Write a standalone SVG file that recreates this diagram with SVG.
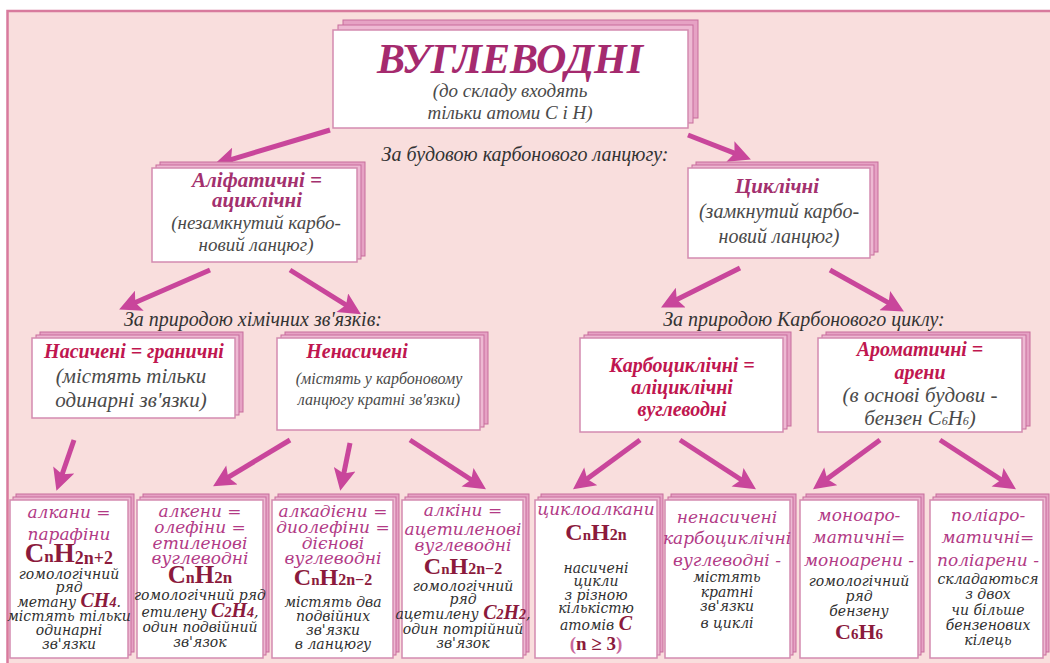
<svg xmlns="http://www.w3.org/2000/svg" width="1050" height="663" viewBox="0 0 1050 663">
<defs>
<marker id="ah" viewBox="0 0 10 10" refX="6" refY="5" markerWidth="5" markerHeight="4.4" orient="auto" markerUnits="strokeWidth"><path d="M0,0 L10,5 L0,10 L2,5 z" fill="#c9469b"/></marker>
</defs>
<style>
.bg{fill:#f9dedd}
.frame{stroke:#d87a9d;stroke-width:2.5;fill:none}
.box{fill:#ffffff;stroke:#d38bb0;stroke-width:1.5}
.s1{fill:#eeb9d3;stroke:#c76c9c;stroke-width:1}
.s2{fill:#e6a2c4;stroke:#c76c9c;stroke-width:1}
.arr{stroke:#c9469b;stroke-width:5;fill:none;marker-end:url(#ah)}
text{text-anchor:middle}
.title{font-family:"Liberation Serif",serif;font-weight:bold;font-style:italic;font-size:42px;fill:#a52a6e}
.sub{font-family:"Liberation Serif",serif;font-style:italic;fill:#4a4a4a}
.lbl{font-family:"Liberation Serif",serif;font-style:italic;font-size:20px;fill:#333}
.h2{font-family:"Liberation Serif",serif;font-weight:bold;font-style:italic;font-size:21px;fill:#a3306e}
.h3{font-family:"Liberation Serif",serif;font-weight:bold;font-style:italic;font-size:20px;fill:#c0164f}
.mg{font-family:"DejaVu Serif",serif;font-style:italic;font-size:17px;fill:#b23a86}
.gr{font-family:"DejaVu Serif",serif;font-style:italic;font-size:14px;fill:#2f2f2f}
.f{font-family:"Liberation Serif",serif;font-weight:bold;fill:#8b1a3c}
</style>
<rect width="1050" height="663" fill="#ffffff"/>
<rect class="bg" x="7" y="10" width="1043" height="653"/>
<path class="frame" d="M7.5,663 V11 H1050"/>

<g id="connectors">
<line class="arr" x1="330" y1="130" x2="222.6" y2="162.1"/>
<line class="arr" x1="688" y1="135" x2="742.7" y2="156.4"/>
<line class="arr" x1="210" y1="270" x2="127.2" y2="306"/>
<line class="arr" x1="290" y1="270" x2="353.5" y2="309.7"/>
<line class="arr" x1="740" y1="268" x2="668.9" y2="303.5"/>
<line class="arr" x1="830" y1="270" x2="896.3" y2="307.1"/>
<line class="arr" x1="74" y1="440" x2="59.3" y2="482.5"/>
<line class="arr" x1="290" y1="440" x2="220.6" y2="481.8"/>
<line class="arr" x1="350" y1="443" x2="342" y2="482.2"/>
<line class="arr" x1="410" y1="440" x2="478.6" y2="484.5"/>
<line class="arr" x1="640" y1="440" x2="580.1" y2="484.1"/>
<line class="arr" x1="680" y1="440" x2="748.6" y2="484.5"/>
<line class="arr" x1="880" y1="440" x2="820.1" y2="484.1"/>
<line class="arr" x1="940" y1="440" x2="1008.6" y2="484.5"/>
</g>

<g id="root">
<rect class="s2" x="343" y="20" width="355" height="98"/>
<rect class="s1" x="338" y="25" width="355" height="98"/>
<rect class="box" x="333" y="30" width="355" height="98"/>
<text class="title" x="510" y="73">ВУГЛЕВОДНІ</text>
<text class="sub" x="510" y="97" font-size="19">(до складу входять</text>
<text class="sub" x="510" y="119" font-size="19">тільки атоми С і Н)</text>
</g>

<text class="lbl" x="525" y="161">За будовою карбонового ланцюгу:</text>

<g id="aliphatic">
<rect class="s2" x="160" y="162" width="205" height="94"/>
<rect class="s1" x="156" y="165" width="205" height="94"/>
<rect class="box" x="152" y="168" width="205" height="94"/>
<text class="h2" x="257" y="187">Аліфатичні =</text>
<text class="h2" x="257" y="207">ациклічні</text>
<text class="sub" x="256" y="229" font-size="19">(незамкнутий карбо-</text>
<text class="sub" x="256" y="251" font-size="19">новий ланцюг)</text>
</g>

<g id="cyclic">
<rect class="s2" x="696" y="162" width="182" height="90"/>
<rect class="s1" x="692" y="165" width="182" height="90"/>
<rect class="box" x="688" y="168" width="182" height="90"/>
<text class="h2" x="777" y="193">Циклічні</text>
<text class="sub" x="779" y="218" font-size="20">(замкнутий карбо-</text>
<text class="sub" x="779" y="243" font-size="20">новий ланцюг)</text>
</g>

<text class="lbl" x="253" y="326">За природою хімічних зв'язків:</text>
<text class="lbl" x="804" y="326">За природою Карбонового циклу:</text>

<g id="saturated">
<rect class="s2" x="40" y="332" width="203" height="80"/>
<rect class="s1" x="36" y="335" width="203" height="80"/>
<rect class="box" x="32" y="338" width="203" height="80"/>
<text class="h3" x="134" y="358">Насичені = граничні</text>
<text class="sub" x="131" y="383" font-size="21">(містять тільки</text>
<text class="sub" x="131" y="407" font-size="21">одинарні зв'язки)</text>
</g>

<g id="unsaturated">
<rect class="s2" x="285" y="332" width="203" height="92"/>
<rect class="s1" x="281" y="335" width="203" height="92"/>
<rect class="box" x="277" y="338" width="203" height="92"/>
<text class="h3" x="357" y="358">Ненасичені</text>
<text class="sub" x="379" y="384" font-size="16">(містять у карбоновому</text>
<text class="sub" x="379" y="405" font-size="16">ланцюгу кратні зв'язки)</text>
</g>

<g id="carbocyclic">
<rect class="s2" x="588" y="332" width="203" height="94"/>
<rect class="s1" x="584" y="335" width="203" height="94"/>
<rect class="box" x="580" y="338" width="203" height="94"/>
<text class="h3" x="682" y="372">Карбоциклічні =</text>
<text class="h3" x="682" y="394">аліциклічні</text>
<text class="h3" x="682" y="416">вуглеводні</text>
</g>

<g id="aromatic">
<rect class="s2" x="826" y="332" width="204" height="94"/>
<rect class="s1" x="822" y="335" width="204" height="94"/>
<rect class="box" x="818" y="338" width="204" height="94"/>
<text class="h3" x="920" y="356">Ароматичні =</text>
<text class="h3" x="920" y="379">арени</text>
<text class="sub" x="920" y="402" font-size="21">(в основі будови -</text>
<text class="sub" x="920" y="425" font-size="21">бензен C<tspan font-size="12">6</tspan>H<tspan font-size="12">6</tspan>)</text>
</g>

<g id="alkanes">
<rect class="s2" x="16" y="494" width="118" height="158"/>
<rect class="s1" x="13" y="497" width="118" height="158"/>
<rect class="box" x="10" y="500" width="118" height="158"/>
<text class="mg" x="69" y="518">алкани =</text>
<text class="mg" x="69" y="540">парафіни</text>
<text class="f" x="69" y="562" font-size="27">C<tspan font-size="17">n</tspan>H<tspan font-size="18" dy="2">2n+2</tspan></text>
<text class="gr" x="69" y="579" font-size="14.5">гомологічний</text>
<text class="gr" x="69" y="592">ряд</text>
<text class="gr" x="69" y="607" font-size="15">метану <tspan class="f" font-size="20">CH</tspan><tspan class="f" font-size="14">4</tspan>.</text>
<text class="gr" x="69" y="621" font-size="13.5">містять тільки</text>
<text class="gr" x="69" y="635">одинарні</text>
<text class="gr" x="69" y="649">зв'язки</text>
</g>

<g id="alkenes">
<rect class="s2" x="143" y="494" width="126" height="158"/>
<rect class="s1" x="140" y="497" width="126" height="158"/>
<rect class="box" x="137" y="500" width="126" height="158"/>
<text class="mg" x="200" y="517">алкени =</text>
<text class="mg" x="200" y="533">олефіни =</text>
<text class="mg" x="200" y="549">етиленові</text>
<text class="mg" x="200" y="564">вуглеводні</text>
<text class="f" x="200" y="583" font-size="25">C<tspan font-size="16">n</tspan>H<tspan font-size="17">2n</tspan></text>
<text class="gr" x="200" y="600" font-size="12.5">гомологічний ряд</text>
<text class="gr" x="200" y="617" font-size="16">етилену <tspan class="f" font-size="20">C</tspan><tspan class="f" font-size="14">2</tspan><tspan class="f" font-size="20">H</tspan><tspan class="f" font-size="14">4</tspan>,</text>
<text class="gr" x="200" y="632" font-size="13">один подвійний</text>
<text class="gr" x="200" y="647" font-size="13">зв'язок</text>
</g>

<g id="alkadienes">
<rect class="s2" x="278" y="494" width="121" height="158"/>
<rect class="s1" x="275" y="497" width="121" height="158"/>
<rect class="box" x="272" y="500" width="121" height="158"/>
<text class="mg" x="333" y="517">алкадієни =</text>
<text class="mg" x="333" y="533">диолефіни =</text>
<text class="mg" x="333" y="549">дієнові</text>
<text class="mg" x="333" y="564">вуглеводні</text>
<text class="f" x="333" y="585" font-size="24">C<tspan font-size="15">n</tspan>H<tspan font-size="16">2n−2</tspan></text>
<text class="gr" x="333" y="607" font-size="15">містять два</text>
<text class="gr" x="333" y="621">подвійних</text>
<text class="gr" x="333" y="635">зв'язки</text>
<text class="gr" x="333" y="649">в ланцюгу</text>
</g>

<g id="alkynes">
<rect class="s2" x="408" y="494" width="121" height="158"/>
<rect class="s1" x="405" y="497" width="121" height="158"/>
<rect class="box" x="402" y="500" width="121" height="158"/>
<text class="mg" x="463" y="516">алкіни =</text>
<text class="mg" x="463" y="535">ацетиленові</text>
<text class="mg" x="463" y="551">вуглеводні</text>
<text class="f" x="463" y="574" font-size="24">C<tspan font-size="15">n</tspan>H<tspan font-size="16">2n−2</tspan></text>
<text class="gr" x="463" y="591" font-size="15">гомологічний</text>
<text class="gr" x="463" y="604">ряд</text>
<text class="gr" x="463" y="619" font-size="11">ацетилену <tspan class="f" font-size="20">C</tspan><tspan class="f" font-size="14">2</tspan><tspan class="f" font-size="20">H</tspan><tspan class="f" font-size="14">2</tspan>,</text>
<text class="gr" x="463" y="634" font-size="12.5">один потрійний</text>
<text class="gr" x="463" y="648" font-size="12.5">зв'язок</text>
</g>

<g id="cycloalkanes">
<rect class="s2" x="541" y="494" width="122" height="158"/>
<rect class="s1" x="538" y="497" width="122" height="158"/>
<rect class="box" x="535" y="500" width="122" height="158"/>
<text class="mg" x="596" y="515" font-size="16.5">циклоалкани</text>
<text class="f" x="596" y="540" font-size="24">C<tspan font-size="15">n</tspan>H<tspan font-size="16">2n</tspan></text>
<text class="gr" x="596" y="573" font-size="15">насичені</text>
<text class="gr" x="596" y="586">цикли</text>
<text class="gr" x="596" y="600">з різною</text>
<text class="gr" x="596" y="613">кількістю</text>
<text class="gr" x="596" y="630" font-size="15">атомів <tspan class="f" font-size="20">C</tspan></text>
<text class="f" x="596" y="650" font-size="19"><tspan fill="#c8659a">(</tspan>n ≥ 3<tspan fill="#c8659a">)</tspan></text>
</g>

<g id="unsat-carbocyclic">
<rect class="s2" x="671" y="494" width="125" height="158"/>
<rect class="s1" x="668" y="497" width="125" height="158"/>
<rect class="box" x="665" y="500" width="125" height="158"/>
<text class="mg" x="727" y="523">ненасичені</text>
<text class="mg" x="727" y="544" font-size="16">карбоциклічні</text>
<text class="mg" x="727" y="566">вуглеводні -</text>
<text class="gr" x="727" y="582" font-size="15">містять</text>
<text class="gr" x="727" y="597">кратні</text>
<text class="gr" x="727" y="611">зв'язки</text>
<text class="gr" x="727" y="628">в циклі</text>
</g>

<g id="monoarenes">
<rect class="s2" x="806" y="494" width="118" height="158"/>
<rect class="s1" x="803" y="497" width="118" height="158"/>
<rect class="box" x="800" y="500" width="118" height="158"/>
<text class="mg" x="859" y="521">моноаро-</text>
<text class="mg" x="859" y="543">матичні=</text>
<text class="mg" x="859" y="566">моноарени -</text>
<text class="gr" x="859" y="586" font-size="15">гомологічний</text>
<text class="gr" x="859" y="601" font-size="15">ряд</text>
<text class="gr" x="859" y="616" font-size="15">бензену</text>
<text class="f" x="859" y="639" font-size="22">C<tspan font-size="15">6</tspan>H<tspan font-size="15">6</tspan></text>
</g>

<g id="polyarenes">
<rect class="s2" x="936" y="494" width="113" height="158"/>
<rect class="s1" x="933" y="497" width="113" height="158"/>
<rect class="box" x="930" y="500" width="113" height="158"/>
<text class="mg" x="988" y="521">поліаро-</text>
<text class="mg" x="988" y="543">матичні=</text>
<text class="mg" x="988" y="566">поліарени -</text>
<text class="gr" x="988" y="584" font-size="15">складаються</text>
<text class="gr" x="988" y="599" font-size="15">з двох</text>
<text class="gr" x="988" y="615" font-size="15">чи більше</text>
<text class="gr" x="988" y="630" font-size="15">бензенових</text>
<text class="gr" x="988" y="645" font-size="15">кілець</text>
</g>
</svg>
